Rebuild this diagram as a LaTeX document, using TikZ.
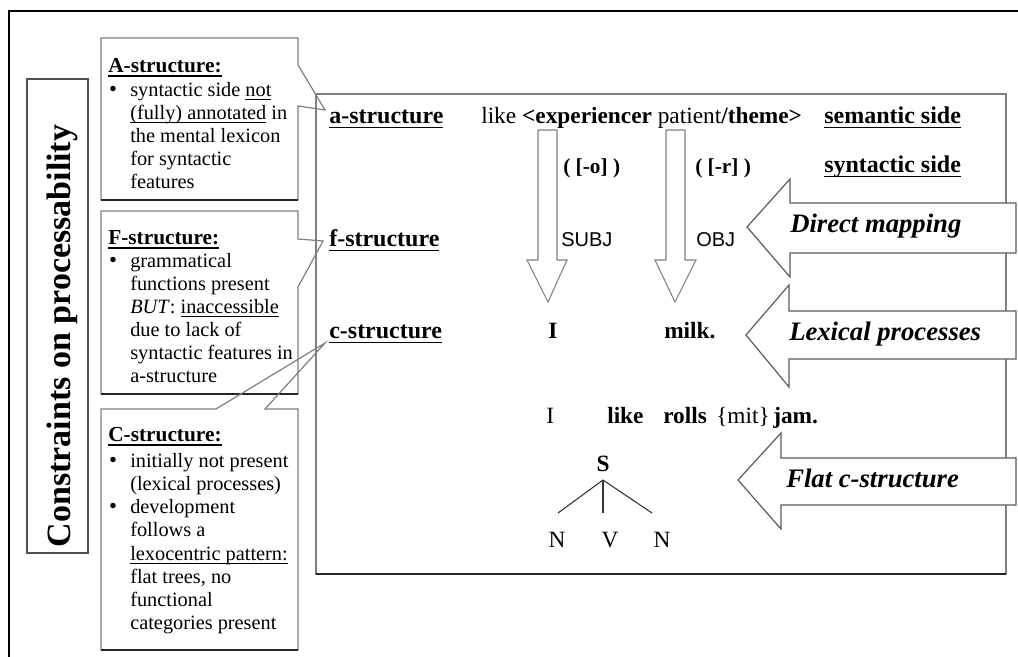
\documentclass[tikz,border=0pt]{standalone}
\usepackage{fontspec}
\setmainfont{Liberation Serif}
\newfontfamily\sansfam{Liberation Sans}
% underline drawn as a rule just below the baseline
\newcommand\uw[1]{\setbox0=\hbox{#1}\leavevmode\rlap{\vrule width\wd0 height -0.16em depth 0.215em}\box0\relax}
\definecolor{edge}{gray}{0.5}
\definecolor{edgedark}{gray}{0.15}
\begin{document}
\begin{tikzpicture}[x=0.75pt,y=-0.75pt,
  lbl/.style={font=\fontsize{18}{20}\selectfont\bfseries, inner sep=0pt, anchor=base west},
  word/.style={font=\fontsize{17.5}{20}\selectfont, inner sep=0pt, anchor=base west},
  feat/.style={font=\fontsize{16}{18}\selectfont\bfseries, inner sep=0pt, anchor=base west},
  gf/.style={font=\sansfam\fontsize{15}{17}\selectfont, inner sep=0pt, anchor=base west},
  body/.style={font=\fontsize{15.25}{18}\selectfont, inner sep=0pt, anchor=base west},
  ctitle/.style={font=\fontsize{16}{18}\selectfont\bfseries, inner sep=0pt, anchor=base west},
  bul/.style={font=\fontsize{17}{18}\selectfont, inner sep=0pt, anchor=base},
  procname/.style={font=\fontsize{20}{22}\selectfont\bfseries\itshape, inner sep=0pt, anchor=base west},
  panel/.style={draw=edge, line width=0.9pt, line join=miter},
  shadowline/.style={draw=edgedark, line width=1.3pt},
  blockarrow/.style={draw=edgedark!75, fill=white, line width=0.9pt, line join=miter},
  hollow/.style={draw=edge, fill=white, line width=0.8pt, line join=miter},
  treeline/.style={draw=black!80, line width=0.8pt}]
\useasboundingbox (0,0) rectangle (1018,657);
\fill[white] (0,0) rectangle (1018,657);

% outer frame
\draw[line width=1.5pt] (9,657) -- (9,11) -- (1018,11);

% vertical title
\draw[draw=edgedark!80, line width=0.9pt] (27,79) rectangle (88,553);
\node[font=\fontsize{25.5}{28}\selectfont\bfseries, inner sep=0pt, rotate=90, anchor=base]
  (title) at (70,336) {Constraints on processability};

% main panel
\draw[panel] (316,94) rectangle (1006,574);
\draw[shadowline] (316,574) -- (1006,574);

% callout boxes
\draw[panel] (101,38) -- (298,38) -- (298,65) -- (325,110) -- (298,106) -- (298,200) -- (101,200) -- cycle;
\draw[shadowline] (101,200) -- (298,200);
\draw[panel] (101,211) -- (298,211) -- (298,239) -- (323,241) -- (298,287) -- (298,394) -- (101,394) -- cycle;
\draw[shadowline] (101,394) -- (298,394);
\draw[panel] (101,409) -- (216,409) -- (325,343) -- (265,409) -- (298,409) -- (298,650) -- (101,650) -- cycle;
\draw[shadowline] (101,650) -- (298,650);

% A-structure callout
\node[ctitle] (atitle) at (108,72) {\uw{A-structure:}};
\node[bul] (abul) at (113,96) {\textbullet};
\foreach \t [count=\i] in {{syntactic side \uw{not}}, {\uw{(fully) annotated} in}, {the mental lexicon}, {for syntactic}, {features}}
  \node[body] (abody\i) at (130, 73+23*\i) {\t};

% F-structure callout
\node[ctitle] (ftitle) at (108,244) {\uw{F-structure:}};
\node[bul] (fbul) at (113,267) {\textbullet};
\foreach \t [count=\i] in {{grammatical}, {functions present}, {\textit{BUT}: \uw{inaccessible}}, {due to lack of}, {syntactic features in}, {a-structure}}
  \node[body] (fbody\i) at (130, 244+23*\i) {\t};

% C-structure callout
\node[ctitle] (ctitle) at (108,441) {\uw{C-structure:}};
\node[bul] (cbul1) at (113,467) {\textbullet};
\node[bul] (cbul2) at (113,513) {\textbullet};
\foreach \t [count=\i] in {{initially not present}, {(lexical processes)}, {development}, {follows a}, {\uw{lexocentric pattern:}}, {flat trees, no}, {functional}, {categories present}}
  \node[body] (cbody\i) at (130, 444+23.2*\i) {\t};

% level labels
\node[lbl] (alevel) at (329,123) {\uw{a-structure}};
\node[lbl] (flevel) at (329,246) {\uw{f-structure}};
\node[lbl] (clevel) at (329,338) {\uw{c-structure}};
\node[lbl] (semside) at (824,123) {\uw{semantic side}};
\node[lbl] (synside) at (824,172) {\uw{syntactic side}};

% argument structure
\node[word] (argstr) at (481,123) {like \textbf{<experiencer} patient\textbf{/theme>}};
\node[feat] (featexp) at (563,173) {( [-o] )};
\node[feat] (featpat) at (695,173) {( [-r] )};

% hollow mapping arrows
\draw[hollow] (538,130) -- (557,130) -- (557,260) -- (567,260) -- (548,302) -- (527,260) -- (538,260) -- cycle;
\draw[hollow] (666,130) -- (685,130) -- (685,260) -- (696,260) -- (675,302) -- (655,260) -- (666,260) -- cycle;

\node[gf] (subj) at (561,246) {SUBJ};
\node[gf] (obj) at (696,246) {OBJ};
\node[word, font=\fontsize{17.5}{20}\selectfont\bfseries] (wi) at (548,338) {I};
\node[word, font=\fontsize{17.5}{20}\selectfont\bfseries] (wmilk) at (664,338) {milk.};

% learner sentence
\node[word] (s1) at (546,423) {I};
\node[word] (s2) at (607,423) {\textbf{like}};
\node[word] (s3) at (663,423) {\textbf{rolls}};
\node[word] (s4) at (716,423) {\{mit\}};
\node[word] (s5) at (773,423) {\textbf{jam.}};

% flat tree
\node[word, anchor=base, font=\fontsize{17.5}{20}\selectfont\bfseries] (troot) at (603,471) {S};
\node[word, anchor=base] (tn1) at (557,547) {N};
\node[word, anchor=base] (tv) at (610,547) {V};
\node[word, anchor=base] (tn2) at (662,547) {N};
\coordinate (rootfoot) at (603,480);
\coordinate (leafn1) at (558,513);
\coordinate (leafv) at (603,513);
\coordinate (leafn2) at (652,513);
\draw[treeline] (rootfoot) -- (leafn1);
\draw[treeline] (rootfoot) -- (leafv);
\draw[treeline] (rootfoot) -- (leafn2);

% process arrows
\draw[blockarrow] (1016,203) -- (790,203) -- (790,179) -- (747,227) -- (790,277) -- (790,253) -- (1016,253) -- cycle;
\node[procname] (direct) at (790,232) {Direct mapping};
\draw[blockarrow] (1016,311) -- (789,311) -- (789,285) -- (746,335) -- (789,387) -- (789,359) -- (1016,359) -- cycle;
\node[procname] (lexical) at (789,340) {Lexical processes};
\draw[blockarrow] (1016,458) -- (781,458) -- (781,433) -- (738,480) -- (781,529) -- (781,505) -- (1016,505) -- cycle;
\node[procname] (flat) at (786,487) {Flat c-structure};
\end{tikzpicture}
\end{document}
